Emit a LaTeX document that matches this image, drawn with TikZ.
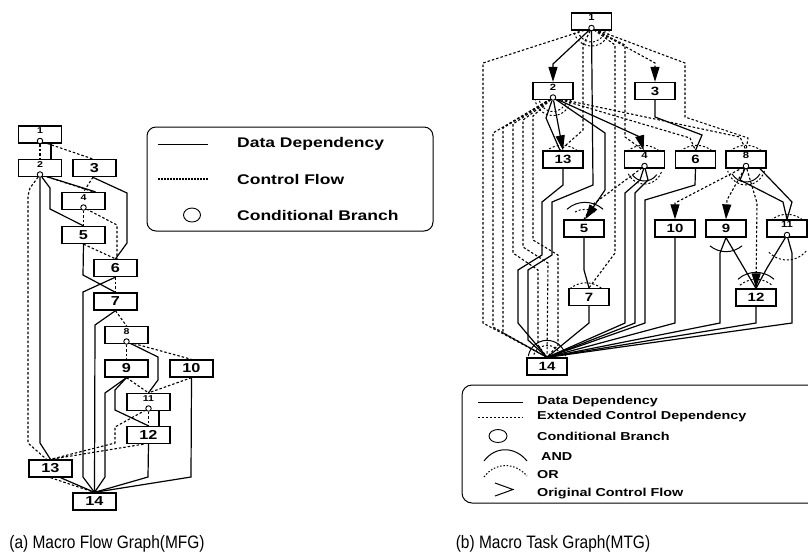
\documentclass[tikz,border=0pt]{standalone}
\usepackage{fontspec}
\setmainfont{Liberation Sans}
\usepackage{graphicx}
\usetikzlibrary{arrows.meta,calc,shapes.geometric}
\pgfdeclarelayer{bg}
\pgfsetlayers{bg,main}
\newcommand{\wx}[1]{\scalebox{1.25}[1]{#1}}
\newcommand{\nx}[1]{\scalebox{0.86}[1]{#1}}
\begin{document}
\begin{tikzpicture}[x=1pt,y=-1pt,
  mbox/.style={draw,line width=1.3pt,fill=white,minimum width=43pt,minimum height=17pt,inner sep=0pt,font=\bfseries\fontsize{13}{13}\selectfont},
  tbox/.style={mbox,minimum width=40pt,font=\bfseries\fontsize{12}{12}\selectfont},
  slab/.style={anchor=north,inner sep=0pt,font=\bfseries\fontsize{8.5}{8.5}\selectfont},
  cb/.style={circle,draw,line width=0.9pt,fill=white,minimum size=5.5pt,inner sep=0pt},
  data/.style={line width=1.2pt},
  ctrl/.style={line width=1.1pt,dash pattern=on 2.5pt off 2pt},
  ocf/.style={-{Triangle[length=15pt,width=9pt]}},
  legt/.style={anchor=west,inner sep=0pt,font=\bfseries\fontsize{14}{14}\selectfont},
  legr/.style={anchor=west,inner sep=0pt,font=\bfseries\fontsize{11.5}{11.5}\selectfont},
  capt/.style={inner sep=0pt,font=\fontsize{18}{18}\selectfont},
  andarc/.style={line width=1pt},
  orarc/.style={line width=1pt,dash pattern=on 2pt off 2pt}
]
\useasboundingbox (0,0) rectangle (808,558);

% ================= MFG =================
\node[mbox] (m1) at (40,134.5) {};
\node[slab] (m1l) at ([yshift=-2.5pt]m1.north) {\wx{1}};
\node[cb] (c1) at (40,141) {};
\node[mbox] (m2) at (40,168) {};
\node[slab] (m2l) at ([yshift=-2.5pt]m2.north) {\wx{2}};
\node[cb] (c2) at (40,174.5) {};
\node[mbox] (m3) at (94.5,168) {\wx{3}};
\node[mbox] (m4) at (83.5,201) {};
\node[slab] (m4l) at ([yshift=-2.5pt]m4.north) {\wx{4}};
\node[cb] (c4) at (83.5,207.5) {};
\node[mbox] (m5) at (83.5,235) {\wx{5}};
\node[mbox] (m6) at (115.5,268) {\wx{6}};
\node[mbox] (m7) at (115.5,301.5) {\wx{7}};
\node[mbox] (m8) at (126.5,335) {};
\node[slab] (m8l) at ([yshift=-2.5pt]m8.north) {\wx{8}};
\node[cb] (c8) at (126.5,341.5) {};
\node[mbox] (m9) at (126.5,368.5) {\wx{9}};
\node[mbox] (m10) at (191.5,368.5) {\wx{10}};
\node[mbox] (m11) at (148.5,402) {};
\node[slab] (m11l) at ([yshift=-2.5pt]m11.north) {\wx{11}};
\node[cb] (c11) at (148.5,408.5) {};
\node[mbox] (m12) at (148.5,435) {\wx{12}};
\node[mbox] (m13) at (50.5,468.5) {\wx{13}};
\node[mbox] (m14) at (94.5,501.5) {\wx{14}};

\begin{pgfonlayer}{bg}
% control flow
\draw[ctrl] (c1) -- (m2.north);
\draw[ctrl] (c1) -- ([xshift=-2pt]m3.north);
\draw[ctrl] (c2) -- ([xshift=10pt]m4.north);
\draw[ctrl] (c2) -- (30,188) -- (28,196) -- (28,443) -- ([xshift=-4pt]m13.north);
\draw[ctrl] ([xshift=-1.5pt]m3.south) -- (m4.north);
\draw[ctrl] (c4) -- (m5.north);
\draw[ctrl] (c4) -- (117,225) -- ([xshift=1.5pt]m6.north);
\draw[ctrl] (m5.south) -- (m6.north);
\draw[ctrl] (m6.south) -- (m7.north);
\draw[ctrl] (m7.south) -- (m8.north);
\draw[ctrl] (c8) -- (m9.north);
\draw[ctrl] (c8) -- (m10.north);
\draw[ctrl] (m9.south) -- (m11.north);
\draw[ctrl] (m10.south) -- (m11.north);
\draw[ctrl] (c11) -- (m12.north);
\draw[ctrl] (c11) -- (115,427) -- (115,443) -- (m13.north);
\draw[ctrl] ([xshift=-5pt]m12.south) -- (m13.north);
\draw[ctrl] (m13.south) -- (m14.north);
% data
\draw[data] ([xshift=11pt]m1.south) -- ([xshift=11pt]m2.north);
\draw[data] (c2) -- ([xshift=12pt]m4.north);
\draw[data] (c2) -- (50,188) -- (50,209) -- (m5.north);
\draw[data] (c2) -- (40,443) -- (m13.north);
\draw[data] ([xshift=-2pt]m3.south) -- (127,193) -- (127,243) -- (m6.north);
\draw[data] (m5.south) -- (83,275) -- (m7.north);
\draw[data] (m6.south) -- (83,292) -- (83,477) -- (m14.north);
\draw[data] (m7.south) -- (95,325) -- (m14.north);
\draw[data] (c8) -- (158,357) -- (158,380) -- (m11.north);
\draw[data] (m9.south) -- (115,390) -- (115,410) -- (m12.north);
\draw[data] (m9.south) -- (105,393) -- (105,477) -- (m14.north);
\draw[data] (m10.south) -- (191,477) -- (m14.north);
\draw[data] ([xshift=10.5pt]m11.south) -- ([xshift=10.5pt]m12.north);
\draw[data] (m12.south) -- (148,477) -- (m14.north);
\draw[data] ([xshift=10pt]m13.south) -- (m14.north);
\end{pgfonlayer}

% MFG legend
\draw[line width=1pt,rounded corners=9pt] (147,127) rectangle (433,231);
\coordinate (la) at (158,144);
\coordinate (lb) at (208,144);
\draw[line width=1pt] (la) -- (lb);
\node[legt] (lt1) at (237,144) {\wx{Data Dependency}};
\coordinate (lc) at (158,179);
\coordinate (ld) at (208,179);
\draw[line width=2.4pt,dash pattern=on 1.6pt off 1.4pt] (lc) -- (ld);
\node[legt] (lt2) at (237,179) {\wx{Control Flow}};
\node[draw,ellipse,line width=0.9pt,minimum width=17pt,minimum height=14pt,inner sep=0pt] (le) at (192,215) {};
\node[legt] (lt3) at (237,215) {\wx{Conditional Branch}};

% ================= MTG =================
\node[tbox] (t1) at (591.5,21.5) {};
\node[slab,font=\bfseries\fontsize{9}{9}\selectfont] (t1l) at ([yshift=-2pt]t1.north) {\wx{1}};
\node[cb] (tc1) at (591.5,28) {};
\node[tbox] (t2) at (553,91) {};
\node[slab,font=\bfseries\fontsize{9}{9}\selectfont] (t2l) at ([yshift=-2pt]t2.north) {\wx{2}};
\node[cb] (tc2) at (553,97.5) {};
\node[tbox] (t3) at (655,91) {\wx{3}};
\node[tbox] (t13) at (563,159.5) {\wx{13}};
\node[tbox] (t4) at (644.5,159.5) {};
\node[slab,font=\bfseries\fontsize{9}{9}\selectfont] (t4l) at ([yshift=-2pt]t4.north) {\wx{4}};
\node[cb] (tc4) at (644.5,166) {};
\node[tbox] (t6) at (695.5,159.5) {\wx{6}};
\node[tbox] (t8) at (746,159.5) {};
\node[slab,font=\bfseries\fontsize{9}{9}\selectfont] (t8l) at ([yshift=-2pt]t8.north) {\wx{8}};
\node[cb] (tc8) at (746,166) {};
\node[tbox] (t5) at (584,228.5) {\wx{5}};
\node[tbox] (t10) at (675,228.5) {\wx{10}};
\node[tbox] (t9) at (726,228.5) {\wx{9}};
\node[tbox] (t11) at (787,228.5) {};
\node[slab,font=\bfseries\fontsize{9}{9}\selectfont] (t11l) at ([yshift=-2pt]t11.north) {\wx{11}};
\node[cb] (tc11) at (787,235) {};
\node[tbox] (t7) at (589,297) {\wx{7}};
\node[tbox] (t12) at (756,297.5) {\wx{12}};
\node[tbox] (t14) at (547,366.5) {\wx{14}};

\begin{pgfonlayer}{bg}
% extended control dependency
\draw[ctrl,ocf] (tc1) -- (655,63) -- (t3.north);
\draw[ctrl] (tc1) -- (685,63) -- (685,117) -- (748,138) -- (t8.north);
\draw[ctrl] (tc1) -- (483,63) -- (483,323) -- (t14.north);
\draw[ctrl] (tc1) -- (615,45) -- (615,253) -- (t7.north);
\draw[ctrl] (tc1) -- (583,45) -- (583,130) -- ([xshift=-3pt]t13.north);
\draw[ctrl] (tc1) -- (625,45) -- (625,137) -- ([xshift=-1pt]t4.north);
\draw[ctrl] (tc2) -- (493,133) -- (493,327) -- (t14.north);
\draw[ctrl] (tc2) -- (503,128) -- (503,333) -- (t14.north);
\draw[ctrl] (tc2) -- (513,124) -- (513,253) -- (538,270) -- (538,345) -- (t14.north);
\draw[ctrl] (tc2) -- (523,120) -- (523,247) -- (548,263) -- (t14.north);
\draw[ctrl] (tc2) -- (533,116) -- (533,240) -- (558,255) -- (558,345) -- (t14.north);
\draw[ctrl] (tc2) -- (690,138) -- (t6.north);
\draw[ctrl] (tc2) -- (740,137) -- (t8.north);
\draw[ctrl] (tc4) -- (592,205) -- (t5.north);
\draw[ctrl,ocf] (tc8) -- (727,200) -- (t9.north);
\draw[ctrl,ocf] (tc8) -- (675,203) -- (t10.north);
\draw[ctrl,ocf] (tc8) -- (757,203) -- (t12.north);
% data dependency
\draw[data,ocf] (tc1) -- (553,64) -- (t2.north);
\draw[data] (tc1) -- (593,185) -- (552,202) -- (552,255) -- (528,270) -- (528,340) -- (t14.north);
\draw[data,ocf] (tc2) -- (t13.north);
\draw[data] (tc2) -- (546,118) -- ([xshift=-3pt]t13.north);
\draw[data,ocf] (tc2) -- (640,137) -- ([xshift=-1pt]t4.north);
\draw[data,ocf] (tc2) -- (605,133) -- (605,190) -- ([xshift=1pt]t5.north);
\draw[data] (t13.south) -- (563,185) -- (542,202) -- (542,255) -- (518,270) -- (518,323) -- (t14.north);
\draw[data] (tc4) -- (640,180) -- (625,193) -- (625,323) -- (t14.north);
\draw[data] (tc4) -- (648,180) -- (635,193) -- (635,323) -- (t14.north);
\draw[data] (t6.south) -- (695,185) -- (645,200) -- (645,323) -- (t14.north);
\draw[data] (t10.south) -- (675,323) -- (t14.north);
\draw[data] (t9.south) -- (720,253) -- (720,323) -- (t14.north);
\draw[data] (t9.south) -- (t12.north);
\draw[data] (tc11) -- (767,268) -- (t12.north);
\draw[data] (tc11) -- (792,253) -- (792,323) -- (t14.north);
\draw[data] (t12.south) -- (756,323) -- (t14.north);
\draw[data] (t7.south) -- (589,323) -- (t14.north);
\draw[data] (t5.south) -- (584,270) -- (t7.north);
\draw[data] (t3.south) -- (655,117) -- (702,135) -- (t6.north);
\draw[data] (tc8) -- (740,180) -- (783,202) -- (t11.north);
\draw[data] ([xshift=14pt]t8.south) -- (792,202) -- (t11.north);
% AND / OR arcs
\draw[orarc] ($(tc1)+(5:18)$) arc[start angle=5,end angle=175,radius=18];
\draw[orarc] ($(tc1)+(10:14)$) arc[start angle=10,end angle=170,radius=14];
\draw[orarc] ($(tc2)+(5:18)$) arc[start angle=5,end angle=175,radius=18];
\draw[orarc] ($(tc2)+(10:14)$) arc[start angle=10,end angle=170,radius=14];
\draw[andarc] ($(tc4)+(35:15)$) arc[start angle=35,end angle=145,radius=15];
\draw[orarc] ($(tc4)+(20:18)$) arc[start angle=20,end angle=160,radius=18];
\draw[andarc] ($(tc8)+(30:16)$) arc[start angle=30,end angle=150,radius=16];
\draw[orarc] ($(tc8)+(15:19)$) arc[start angle=15,end angle=165,radius=19];
\draw[orarc] ($(tc11)+(40:25)$) arc[start angle=40,end angle=140,radius=25];
\draw[andarc] ($(t9.south)+(0,-11)+(50:25)$) arc[start angle=50,end angle=130,radius=25];
\draw[andarc] ($(t12.north)+(0,11)+(228:27)$) arc[start angle=228,end angle=312,radius=27];
\draw[andarc] ($(t5.north)+(1,10)+(228:27)$) arc[start angle=228,end angle=312,radius=27];
\draw[orarc] ($(t5.north)+(1,10)+(240:20)$) arc[start angle=240,end angle=300,radius=20];
\draw[andarc] ($(t14.north)+(0,2)+(190:19)$) arc[start angle=190,end angle=350,radius=19];
\draw[orarc] ($(t14.north)+(0,2)+(200:14)$) arc[start angle=200,end angle=340,radius=14];
\draw[orarc] ($(t13.north)+(-1,20)+(230:25)$) arc[start angle=230,end angle=310,radius=25];
\draw[orarc] ($(t4.north)+(-1,20)+(230:25)$) arc[start angle=230,end angle=310,radius=25];
\draw[orarc] ($(t6.north)+(1,20)+(230:25)$) arc[start angle=230,end angle=310,radius=25];
\draw[orarc] ($(t8.north)+(0,20)+(230:25)$) arc[start angle=230,end angle=310,radius=25];
\draw[orarc] ($(t11.north)+(0,20)+(230:25)$) arc[start angle=230,end angle=310,radius=25];
\draw[orarc] ($(t7.north)+(-3,20)+(230:25)$) arc[start angle=230,end angle=310,radius=25];
\draw[orarc] ($(t12.north)+(0,16)+(230:25)$) arc[start angle=230,end angle=310,radius=25];
\end{pgfonlayer}

% MTG legend
\draw[line width=1pt,rounded corners=10pt] (815,385) -- (462,385) -- (462,503) -- (815,503);
\coordinate (ra) at (478,402);
\coordinate (rb) at (523,402);
\draw[line width=1pt] (ra) -- (rb);
\node[legr] (rt1) at (537,402) {\wx{Data Dependency}};
\coordinate (rc) at (478,417);
\coordinate (rd) at (523,417);
\draw[line width=0.8pt,dash pattern=on 2pt off 2pt] (rc) -- (rd);
\node[legr] (rt2) at (537,417) {\wx{Extended Control Dependency}};
\node[draw,ellipse,line width=0.9pt,minimum width=18pt,minimum height=13pt,inner sep=0pt] (re) at (498,436) {};
\node[legr] (rt3) at (537,436) {\wx{Conditional Branch}};
\coordinate (rf) at (484,461);
\coordinate (rg) at (527,461);
\draw[line width=1pt] (rf) .. controls (495,446) and (515,446) .. (rg);
\node[legr] (rt4) at (541,457) {\wx{AND}};
\coordinate (rh) at (484,477);
\coordinate (ri) at (527,476);
\draw[line width=1pt,dash pattern=on 1.5pt off 1.8pt] (rh) .. controls (495,462) and (515,462) .. (ri);
\node[legr] (rt5) at (537,475) {\wx{OR}};
\coordinate (rj) at (495,483);
\coordinate (rk) at (513,489.5);
\coordinate (rl) at (495,496);
\draw[line width=1pt] (rj) -- (rk) -- (rl);
\node[legr] (rt6) at (537,494) {\wx{Original Control Flow}};

% captions
\node[capt] (cap1) at (107,544) {\nx{(a) Macro Flow Graph(MFG)}};
\node[capt] (cap2) at (553,544) {\nx{(b) Macro Task Graph(MTG)}};
\end{tikzpicture}
\end{document}
